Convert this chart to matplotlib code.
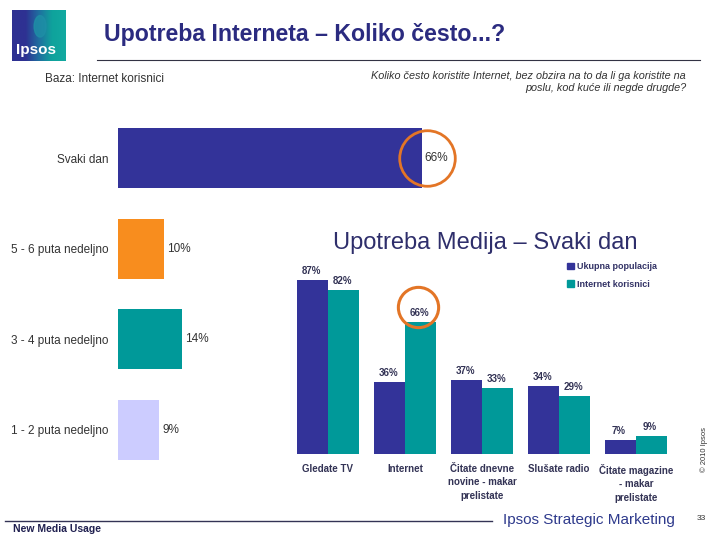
import numpy as np
import matplotlib
matplotlib.use("Agg")
import matplotlib.pyplot as plt
from matplotlib.lines import Line2D
from matplotlib.patches import Patch, Ellipse
from matplotlib.colors import LinearSegmentedColormap

plt.rcParams['font.family'] = ['Liberation Sans', 'DejaVu Sans']

# ---- data ----
freq_categories = ["Svaki dan", "5 - 6 puta nedeljno", "3 - 4 puta nedeljno", "1 - 2 puta nedeljno"]
freq_values = [66, 10, 14, 9]
freq_colors = ["#333399", "#F88D1E", "#009999", "#CCCCFF"]

media_categories = ["Gledate TV", "Internet", "Čitate dnevne\nnovine - makar\nprelistate",
                    "Slušate radio", "Čitate magazine\n- makar\nprelistate"]
media_total = [87, 36, 37, 34, 7]
media_internet = [82, 66, 33, 29, 9]
series_names = ["Ukupna populacija", "Internet korisnici"]

W, H = 720, 540
fig = plt.figure(figsize=(7.2, 5.4), dpi=100)

def fx(x):
    return x / W

def fy(y):
    return 1 - y / H

navy = "#2B2B80"
txt_gray = "#333333"

# ---- header ----
logo_ax = fig.add_axes([fx(12), fy(61), fx(54), 51 / H])
grad = np.linspace(0, 1, 100)[None, :]
cmap = LinearSegmentedColormap.from_list("lg", ["#2E3192", "#2E3192", "#1F6FA0", "#0FA39C", "#12A9A0"])
logo_ax.imshow(np.repeat(grad, 50, axis=0), aspect='auto', cmap=cmap, extent=(0, 1, 0, 1))
logo_ax.add_patch(Ellipse((0.52, 0.68), 0.22, 0.42, color="#1E8FA6", alpha=0.8))
logo_ax.text(0.45, 0.22, "Ipsos", color="white", fontsize=11, fontweight='bold',
             ha='center', va='center', transform=logo_ax.transAxes)
logo_ax.set_xlim(0, 1); logo_ax.set_ylim(0, 1)
logo_ax.axis('off')

fig.text(fx(104), fy(35), "Upotreba Interneta – Koliko često...?", fontsize=16.7,
         fontweight='bold', color=navy, ha='left', va='center')
fig.add_artist(Line2D([fx(97), fx(700)], [fy(60), fy(60)], color="#333344", lw=0.8))

fig.text(fx(45), fy(79), "Baza: Internet korisnici", fontsize=8.5, color=txt_gray,
         ha='left', va='center')
fig.text(fx(686), fy(82), "Koliko često koristite Internet, bez obzira na to da li ga koristite na\n"
         "poslu, kod kuće ili negde drugde?", fontsize=7.8, style='italic', color=txt_gray,
         ha='right', va='center', multialignment='right', linespacing=1.3)

# ---- main horizontal bar chart ----
ax = fig.add_axes([fx(118), fy(475), 460 / W, 362 / H])
ax.set_facecolor('none')
y = np.arange(len(freq_categories))
ax.barh(y, freq_values, height=0.663, color=freq_colors)
ax.set_xlim(0, 100)
ax.set_ylim(3.5, -0.5)
ax.set_yticks(y)
ax.set_yticklabels(freq_categories, fontsize=8.5, color=txt_gray)
ax.tick_params(axis='y', length=0, pad=7)
ax.set_xticks([])
for s in ax.spines.values():
    s.set_visible(False)
for yi, v in zip(y, freq_values):
    ax.annotate(f"{v}%", (v, yi), xytext=(2, 0), textcoords='offset points',
                ha='left', va='center', fontsize=8.5, color=txt_gray)
# highlight circle around the daily value
ax.plot([freq_values[0] + 1.2], [0], marker='o', markersize=40, markerfacecolor='none',
        markeredgecolor="#E37526", markeredgewidth=2, clip_on=False)

# ---- inset grouped bar chart ----
ax2 = fig.add_axes([fx(289.5), fy(454), 385 / W, 200 / H])
ax2.set_facecolor('none')
x = np.arange(len(media_categories))
bw = 0.4026
ax2.bar(x - bw / 2, media_total, width=bw, color="#333399", label=series_names[0])
ax2.bar(x + bw / 2, media_internet, width=bw, color="#009999", label=series_names[1])
ax2.set_xlim(-0.5, 4.5)
ax2.set_ylim(0, 100)
ax2.set_yticks([])
ax2.set_xticks(x)
ax2.set_xticklabels(media_categories, fontsize=7, fontweight='bold', color="#333355",
                    linespacing=1.45, va='top')
ax2.tick_params(axis='x', length=0, pad=7)
for s in ax2.spines.values():
    s.set_visible(False)
for xi, v in zip(x, media_total):
    ax2.annotate(f"{v}%", (xi - bw / 2, v), xytext=(-1, 3), textcoords='offset points',
                 ha='center', va='bottom', fontsize=7, fontweight='bold', color="#333355")
for xi, v in zip(x, media_internet):
    ax2.annotate(f"{v}%", (xi + bw / 2, v), xytext=(-1, 3), textcoords='offset points',
                 ha='center', va='bottom', fontsize=7, fontweight='bold', color="#333355")
ax2.plot([1 + 0.17], [media_internet[1] + 7.5], marker='o', markersize=29,
         markerfacecolor='none', markeredgecolor="#E37526", markeredgewidth=2.2, clip_on=False)

ax2.legend(handles=[Patch(color="#333399"), Patch(color="#009999")], labels=series_names,
           loc='upper left', bbox_to_anchor=(fx(567), fy(262)), bbox_transform=fig.transFigure,
           frameon=False, prop={'size': 6.5, 'weight': 'bold'}, handlelength=0.75,
           handleheight=0.75, handletextpad=0.35, labelspacing=0.95, borderpad=0,
           borderaxespad=0, labelcolor="#333366")

fig.text(fx(333), fy(243), "Upotreba Medija – Svaki dan", fontsize=17, color="#2E2E6B",
         ha='left', va='center')
fig.text(fx(704), fy(450), "© 2010 Ipsos", fontsize=5.5, color=txt_gray, rotation=90,
         ha='center', va='center')

# ---- footer ----
fig.add_artist(Line2D([fx(5), fx(492)], [fy(521), fy(521)], color="#333355", lw=1))
fig.text(fx(13), fy(529), "New Media Usage", fontsize=7.5, fontweight='bold', color="#1F1F4F",
         ha='left', va='center')
fig.text(fx(503), fy(520), "Ipsos Strategic Marketing", fontsize=11,
         color="#2E3A8C", ha='left', va='center')
fig.text(fx(697), fy(518), "33", fontsize=6, color=txt_gray, ha='left', va='center')

fig.savefig("out.png", dpi=100)
